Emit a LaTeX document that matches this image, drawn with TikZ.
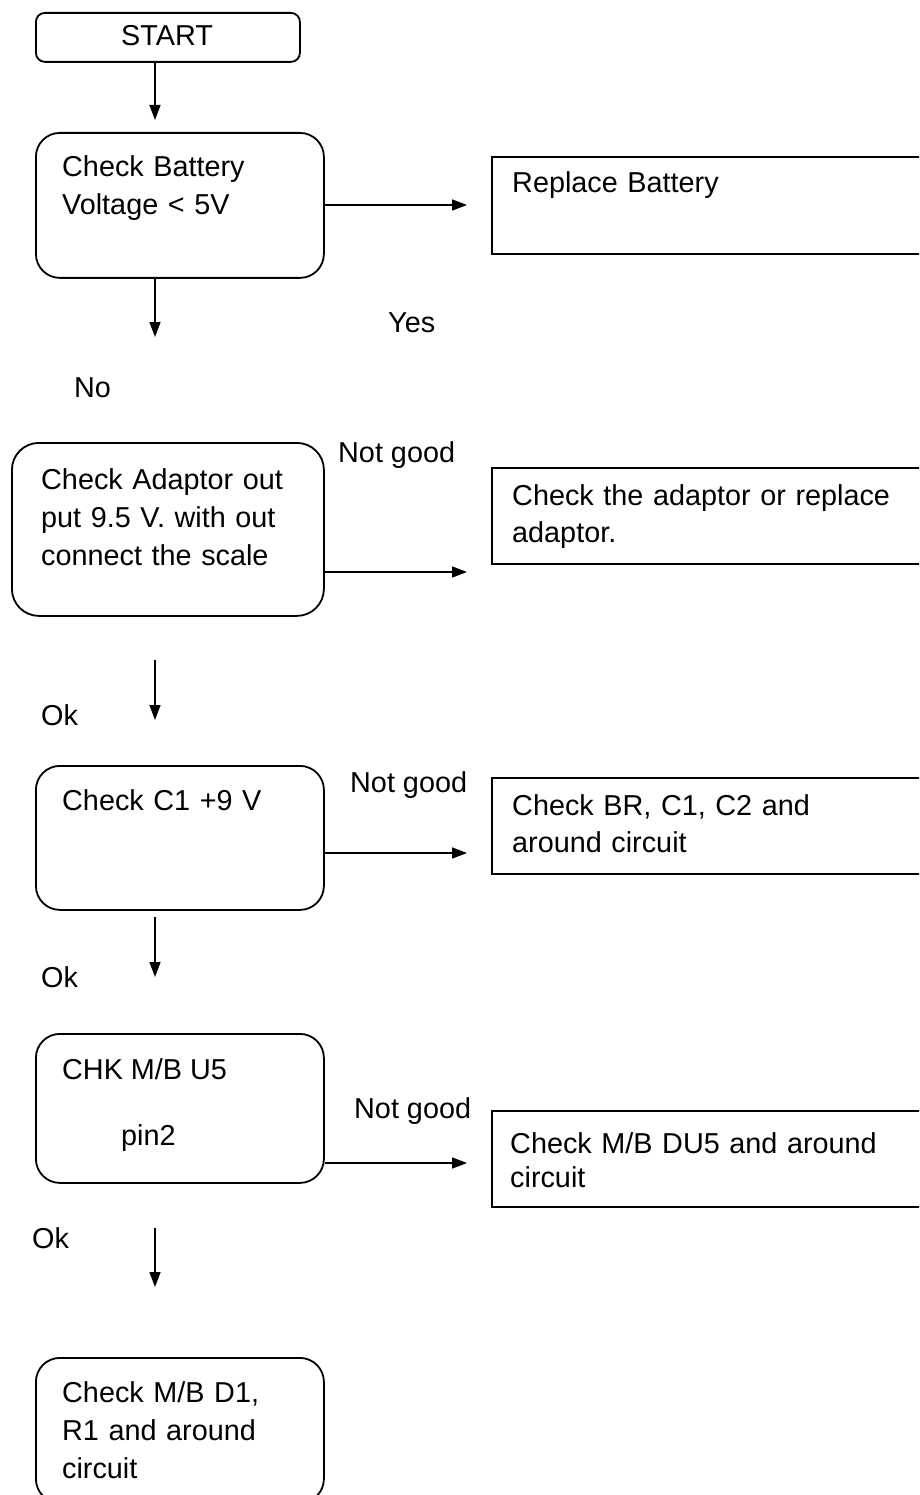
\documentclass[tikz,border=0pt]{standalone}
\usepackage{fontspec}
\setmainfont{Liberation Sans}
\usetikzlibrary{arrows.meta}
\begin{document}
\begin{tikzpicture}[x=1pt,y=-1pt,
  every node/.style={font=\fontsize{28.8}{38}\selectfont},
  rbox/.style={draw,line width=1.8pt,rounded corners=24pt,rectangle,inner sep=0pt,anchor=north west},
  sbox/.style={draw,line width=1.8pt,rectangle,inner sep=0pt,anchor=north west},
  txt/.style={inner sep=0pt,anchor=base west,align=left,text width=300pt},
  lbl/.style={inner sep=0pt,anchor=base west},
  arr/.style={line width=1.5pt,-{Triangle[length=15pt,width=11pt]}}]
\useasboundingbox (0,0) rectangle (919,1495);
\clip (0,0) rectangle (919,1495);
% boxes
\node[rbox,rounded corners=9pt,minimum width=264pt,minimum height=49pt] (start) at (35,12) {};
\node[inner sep=0pt] (starttxt) at (167,36) {START};
\node[rbox,minimum width=288pt,minimum height=145pt] (b1) at (35,132) {};
\node[txt] (b1t) at (62,177) {Check Battery\\Voltage < 5V};
\node[sbox,minimum width=440pt,minimum height=97pt] (r1) at (491,156) {};
\node[txt] (r1t) at (512,193) {Replace Battery};

\node[rbox,rounded corners=27pt,minimum width=312pt,minimum height=173pt] (b2) at (11,442) {};
\node[txt] (b2t) at (41,489) {Check Adaptor out\\put 9.5 V. with out\\connect the scale};
\node[sbox,minimum width=440pt,minimum height=96pt] (r2) at (491,467) {};
\node[txt,font=\fontsize{28.8}{37}\selectfont,text width=400pt] (r2t) at (512,505) {Check the adaptor or replace\\adaptor.};

\node[rbox,minimum width=288pt,minimum height=144pt] (b3) at (35,765) {};
\node[txt] (b3t) at (62,810) {Check C1 +9 V};
\node[sbox,minimum width=440pt,minimum height=96pt] (r3) at (491,777) {};
\node[txt,font=\fontsize{28.8}{37}\selectfont,text width=400pt] (r3t) at (512,815) {Check BR, C1, C2 and\\around circuit};

\node[rbox,minimum width=288pt,minimum height=149pt] (b4) at (35,1033) {};
\node[lbl] (b4t) at (62,1079) {CHK M/B U5};
\node[lbl] (b4p) at (121,1145) {pin2};
\node[sbox,minimum width=440pt,minimum height=96pt] (r4) at (491,1110) {};
\node[txt,font=\fontsize{28.8}{34}\selectfont,text width=400pt] (r4t) at (510,1153) {Check M/B DU5 and around\\circuit};

\node[rbox,minimum width=288pt,minimum height=145pt] (b5) at (35,1357) {};
\node[txt] (b5t) at (62,1402) {Check M/B D1,\\R1 and around\\circuit};

% labels
\node[lbl] (yes) at (388,332) {Yes};
\node[lbl] (no) at (74,397) {No};
\node[lbl] (ng1) at (338,462) {Not good};
\node[lbl] (ok1) at (41,725) {Ok};
\node[lbl] (ng2) at (350,792) {Not good};
\node[lbl] (ok2) at (41,987) {Ok};
\node[lbl] (ng3) at (354,1118) {Not good};
\node[lbl] (ok3) at (32,1248) {Ok};

% arrow coordinates
\coordinate (a0) at (155,120);
\coordinate (a1) at (155,337);
\coordinate (a2s) at (155,660);
\coordinate (a2e) at (155,720);
\coordinate (a3s) at (155,917);
\coordinate (a3e) at (155,977);
\coordinate (a4s) at (155,1228);
\coordinate (a4e) at (155,1287);
\coordinate (h1) at (467,205);
\coordinate (h2) at (467,572);
\coordinate (h3) at (467,853);
\coordinate (h4) at (467,1163);

\draw[arr] (start.south -| a0) -- (a0);
\draw[arr] (b1.south -| a1) -- (a1);
\draw[arr] (a2s) -- (a2e);
\draw[arr] (a3s) -- (a3e);
\draw[arr] (a4s) -- (a4e);
\draw[arr] (b1.east |- h1) -- (h1);
\draw[arr] (b2.east |- h2) -- (h2);
\draw[arr] (b3.east |- h3) -- (h3);
\draw[arr] (b4.east |- h4) -- (h4);
\end{tikzpicture}
\end{document}
